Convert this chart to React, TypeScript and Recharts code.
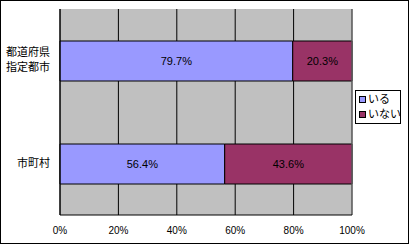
import { Bar, BarChart, CartesianGrid, LabelList, Legend, ReferenceLine, XAxis, YAxis } from "recharts";

const categories = ["都道府県\n指定都市", "市町村"];
const seriesNames = ["いる", "いない"];
const yesValues = [79.7, 56.4];
const noValues = [20.3, 43.6];
const xTicks = [0, 20, 40, 60, 80, 100];

const data = categories.map((name, i) => ({ name, yes: yesValues[i], no: noValues[i] }));

const FONT = "'Liberation Sans', 'Noto Sans CJK JP', sans-serif";

function CategoryTick({ x, y, payload }: { x?: number; y?: number; payload?: { value: string } }) {
  const lines = String(payload?.value ?? "").split("\n");
  const lineHeight = 15;
  const start = (y ?? 0) - ((lines.length - 1) * lineHeight) / 2 - 1;
  return (
    <text textAnchor="end" fontSize={11} fill="#000" fontFamily={FONT} dominantBaseline="central">
      {lines.map((line, i) => (
        <tspan key={i} x={x} y={start + i * lineHeight}>
          {line}
        </tspan>
      ))}
    </text>
  );
}

function LegendBox({ payload }: { payload?: { value: string; color: string }[] }) {
  // keep series order, not alphabetical
  const items = [...(payload ?? [])].sort(
    (a, b) => seriesNames.indexOf(a.value) - seriesNames.indexOf(b.value)
  );
  return (
    <div
      style={{
        border: "1px solid #000",
        background: "#fff",
        padding: "1px 0 1px 3px",
        fontFamily: FONT,
        fontSize: 11,
        lineHeight: "15px",
        boxSizing: "border-box",
        width: 46,
        whiteSpace: "nowrap",
      }}
    >
      {items.map((entry) => (
        <div key={entry.value} style={{ display: "flex", alignItems: "center", height: 15 }}>
          <span
            style={{
              display: "inline-block",
              flex: "none",
              width: 5,
              height: 5,
              border: "1px solid #000",
              background: entry.color,
              marginRight: 2,
            }}
          />
          {entry.value}
        </div>
      ))}
    </div>
  );
}

export default function App() {
  return (
    <div
      style={{
        position: "absolute",
        left: 0,
        top: 0,
        width: 409,
        height: 244,
        border: "1px solid #000",
        boxSizing: "border-box",
        background: "#fff",
      }}
    >
      <div style={{ position: "absolute", left: -1, top: -1 }}>
        <BarChart
          width={409}
          height={244}
          data={data}
          layout="vertical"
          margin={{ top: 9, right: 57, bottom: 0, left: 0 }}
          barSize={40}
        >
          <CartesianGrid fill="#C0C0C0" stroke="#000" horizontal={false} strokeOpacity={1} />
          <XAxis
            type="number"
            domain={[0, 100]}
            ticks={xTicks}
            tickFormatter={(v: number) => `${v}%`}
            tick={{ fill: "#000", fontSize: 10, fontFamily: FONT }}
            tickLine={false}
            tickSize={0}
            tickMargin={12}
            axisLine={{ stroke: "#000" }}
            height={29}
            interval={0}
          />
          <XAxis xAxisId="top" type="number" domain={[0, 100]} orientation="top" height={0} tick={false} tickLine={false} axisLine={{ stroke: "#808080" }} />
          <YAxis
            type="category"
            dataKey="name"
            width={60}
            tick={<CategoryTick />}
            tickLine={false}
            tickSize={0}
            tickMargin={10}
            axisLine={{ stroke: "#000" }}
            interval={0}
          />
          <ReferenceLine x={100} stroke="#808080" />
          <Legend
            layout="vertical"
            align="center"
            verticalAlign="middle"
            content={<LegendBox />}
            wrapperStyle={{ left: 355, top: 90, width: 46 }}
          />
          <Bar dataKey="yes" name={seriesNames[0]} stackId="a" fill="#9999FF" stroke="#000" strokeWidth={1} isAnimationActive={false}>
            <LabelList dataKey="yes" position="center" formatter={(v: number) => `${v}%`} fill="#000" fontSize={11} fontFamily={FONT} />
          </Bar>
          <Bar dataKey="no" name={seriesNames[1]} stackId="a" fill="#993366" stroke="#000" strokeWidth={1} isAnimationActive={false}>
            <LabelList dataKey="no" position="center" formatter={(v: number) => `${v}%`} fill="#000" fontSize={11} fontFamily={FONT} />
          </Bar>
        </BarChart>
      </div>
    </div>
  );
}
